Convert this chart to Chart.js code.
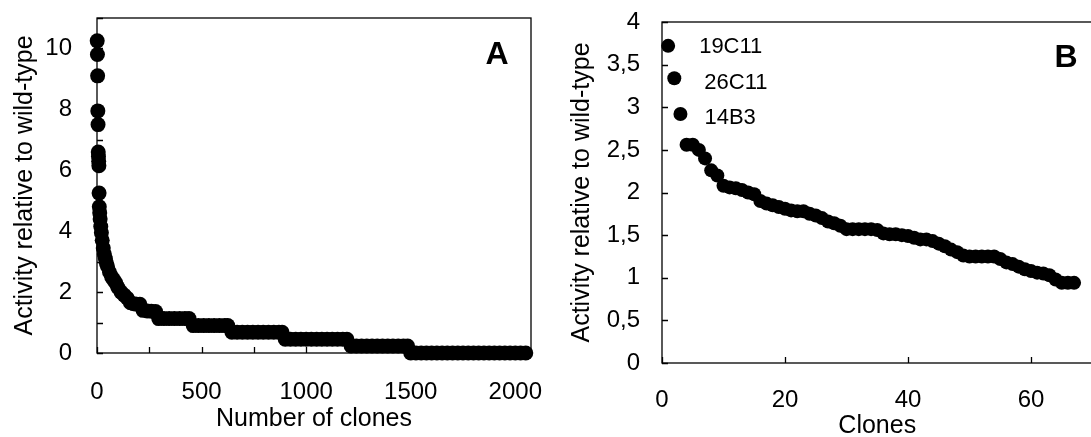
<!DOCTYPE html>
<html lang="en">
<head>
<meta charset="UTF-8">
<title>Activity relative to wild-type</title>
<script src="https://cdn.jsdelivr.net/npm/chart.js"></script>
<style>
    body {
        margin: 0;
        background: #fff;
        width: 1091px;
        height: 437px;
        overflow: hidden;
        position: relative;
    }
    .panel { position: absolute; top: 0; }
    #panelA { left: 0; }
    #panelB { left: 545px; }
</style>
</head>
<body>
<div class="panel" id="panelA"><canvas id="chartA" width="545" height="437"></canvas></div>
<div class="panel" id="panelB"><canvas id="chartB" width="560" height="437"></canvas></div>
<script>
// Panel A: all clones, sorted by activity
const clonesA = [1, 2, 3, 4, 5, 6, 7, 8, 9, 10, 11, 13, 15, 18, 21, 25, 30, 35, 40, 45, 50,
    60, 70, 80, 90, 100, 115, 130, 145, 160, 175, 190, 205, 220, 240, 260, 280,
    295, 320, 345, 370, 395, 420, 440,
    460, 485, 510, 535, 560, 585, 610, 625,
    645, 670, 695, 720, 745, 770, 795, 820, 845, 870, 885,
    900, 925, 950, 975, 1000, 1025, 1050, 1075, 1100, 1125, 1150, 1175, 1195,
    1215, 1240, 1265, 1290, 1315, 1340, 1365, 1390, 1415, 1440, 1465, 1485,
    1500, 1525, 1550, 1575, 1600, 1625, 1650, 1675, 1700, 1725, 1750, 1775,
    1800, 1825, 1850, 1875, 1900, 1925, 1950, 1975, 2000, 2025, 2050];
const activityA = [10.25, 9.8, 9.1, 7.95, 7.5, 6.6, 6.45, 6.3, 6.15, 5.25, 4.8,
    4.6, 4.4, 4.15, 3.95, 3.7, 3.45, 3.25, 3.1, 2.95, 2.85,
    2.65, 2.5, 2.4, 2.3, 2.15,
    2.0, 1.9, 1.8, 1.65, 1.62, 1.6, 1.6,
    1.4, 1.38, 1.37, 1.36,
    1.13, 1.13, 1.13, 1.13, 1.13, 1.13, 1.13,
    0.9, 0.9, 0.9, 0.9, 0.9, 0.9, 0.9, 0.9,
    0.68, 0.68, 0.68, 0.68, 0.68, 0.68, 0.68, 0.68, 0.68, 0.68, 0.68,
    0.45, 0.45, 0.45, 0.45, 0.45, 0.45, 0.45, 0.45, 0.45, 0.45, 0.45, 0.45, 0.45,
    0.23, 0.23, 0.23, 0.23, 0.23, 0.23, 0.23, 0.23, 0.23, 0.23, 0.23, 0.23,
    0, 0, 0, 0, 0, 0, 0, 0, 0, 0, 0, 0,
    0, 0, 0, 0, 0, 0, 0, 0, 0, 0, 0];

// Panel B: best clones
const clonesB = [1, 2, 3, 4, 5, 6, 7, 8, 9, 10, 11, 12, 13, 14, 15, 16, 17, 18, 19, 20,
    21, 22, 23, 24, 25, 26, 27, 28, 29, 30, 31, 32, 33, 34, 35, 36, 37, 38, 39, 40,
    41, 42, 43, 44, 45, 46, 47, 48, 49, 50, 51, 52, 53, 54, 55, 56, 57, 58, 59, 60,
    61, 62, 63, 64, 65, 66, 67];
const activityB = [3.72, 3.34, 2.92, 2.56, 2.56, 2.50, 2.40, 2.26, 2.20, 2.08,
    2.06, 2.05, 2.03, 2.00, 1.98, 1.90, 1.87, 1.85, 1.83, 1.81,
    1.79, 1.78, 1.78, 1.75, 1.73, 1.70, 1.66, 1.64, 1.61, 1.57,
    1.57, 1.57, 1.57, 1.57, 1.56, 1.52, 1.51, 1.51, 1.50, 1.49,
    1.47, 1.45, 1.45, 1.43, 1.40, 1.37, 1.33, 1.30, 1.26, 1.25,
    1.25, 1.25, 1.25, 1.25, 1.22, 1.18, 1.16, 1.13, 1.10, 1.08,
    1.06, 1.05, 1.03, 0.98, 0.94, 0.94, 0.94];
const namedClones = ['19C11', '26C11', '14B3'];

const FONT = '"Liberation Sans", Arial, sans-serif';
const labelOffsets = [[31, 1], [30, 5], [24, 4]];

// box round the plot, inward tick marks, panel letter and clone names
const decor = {
    id: 'decor',
    afterDraw(chart, args, opts) {
        const ctx = chart.ctx;
        const area = chart.chartArea;
        const xs = chart.scales.x, ys = chart.scales.y;
        ctx.save();
        ctx.strokeStyle = '#000';
        ctx.lineWidth = 1.3;
        ctx.strokeRect(area.left, area.top, area.right - area.left, area.bottom - area.top);
        ctx.beginPath();
        xs.ticks.forEach(t => {
            const px = Math.round(xs.getPixelForValue(t.value)) + 0.5;
            ctx.moveTo(px, area.bottom);
            ctx.lineTo(px, area.bottom - 6);
        });
        ys.ticks.forEach(t => {
            const py = Math.round(ys.getPixelForValue(t.value)) + 0.5;
            ctx.moveTo(area.left, py);
            ctx.lineTo(area.left + 6, py);
        });
        ctx.stroke();

        ctx.fillStyle = '#000';
        ctx.font = 'bold 32px ' + FONT;
        ctx.textAlign = 'center';
        ctx.textBaseline = 'middle';
        ctx.fillText(opts.letter, opts.letterX, opts.letterY);

        if (opts.names) {
            ctx.font = '22px ' + FONT;
            ctx.textAlign = 'left';
            const data = chart.data.datasets[0].data;
            opts.names.forEach((name, i) => {
                const px = xs.getPixelForValue(data[i].x) + labelOffsets[i][0];
                const py = ys.getPixelForValue(data[i].y) + labelOffsets[i][1];
                ctx.fillText(name, px, py);
            });
        }
        ctx.restore();
    }
};

function makeChart(id, xs, ys, cfg) {
    return new Chart(document.getElementById(id), {
        type: 'scatter',
        data: {
            datasets: [{
                data: xs.map((x, i) => ({ x: x, y: ys[i] })),
                backgroundColor: '#000',
                borderWidth: 0,
                pointRadius: cfg.radius,
                clip: false
            }]
        },
        options: {
            responsive: false,
            animation: false,
            layout: { padding: cfg.padding },
            plugins: {
                legend: { display: false },
                tooltip: { enabled: false },
                decor: cfg.decor
            },
            scales: {
                x: {
                    type: 'linear',
                    min: 0,
                    max: cfg.xMax,
                    // fixed axis band; label overflow is allowed into the padding
                    afterFit: s => {
                        s.height = cfg.xHeight;
                        s.paddingLeft = 0;
                        s.paddingRight = 0;
                    },
                    grid: { display: false, drawTicks: false },
                    border: { display: false },
                    ticks: {
                        stepSize: cfg.xStep,
                        includeBounds: false,
                        autoSkip: false,
                        maxRotation: 0,
                        minRotation: 0,
                        padding: cfg.xPad,
                        color: '#000',
                        font: { family: FONT, size: 24 },
                        callback: cfg.xLabel
                    },
                    title: {
                        display: true,
                        text: cfg.xTitle,
                        color: '#000',
                        font: { family: FONT, size: 25 },
                        padding: { top: 0, bottom: cfg.xTitlePad }
                    }
                },
                y: {
                    min: 0,
                    max: cfg.yMax,
                    afterFit: s => {
                        s.width = cfg.yWidth;
                        s.paddingTop = 0;
                        s.paddingBottom = 0;
                    },
                    grid: { display: false, drawTicks: false },
                    border: { display: false },
                    ticks: {
                        stepSize: cfg.yStep,
                        includeBounds: false,
                        autoSkip: false,
                        padding: cfg.yPad,
                        color: '#000',
                        font: { family: FONT, size: 24 },
                        callback: cfg.yLabel
                    },
                    title: {
                        display: true,
                        text: 'Activity relative to wild-type',
                        color: '#000',
                        font: { family: FONT, size: 25 },
                        padding: { top: cfg.yTitlePad, bottom: 0 }
                    }
                }
            }
        },
        plugins: [decor]
    });
}

makeChart('chartA', clonesA, activityA, {
    radius: 7.5,
    padding: { top: 18, right: 14, left: 0, bottom: 0 },
    xMax: 2075, xStep: 250, xHeight: 84, xPad: 25, xTitlePad: 3,
    xLabel: v => (v % 500 === 0 ? v : ''),
    xTitle: 'Number of clones',
    yMax: 11, yStep: 1, yWidth: 97, yPad: 25, yTitlePad: 10,
    yLabel: v => (v % 2 === 0 ? v : ''),
    decor: { letter: 'A', letterX: 497, letterY: 55 }
});

makeChart('chartB', clonesB, activityB, {
    radius: 7,
    padding: { top: 22, right: 12.5, left: 0, bottom: 0 },
    xMax: 70, xStep: 20, xHeight: 74, xPad: 23, xTitlePad: -4,
    xLabel: v => v,
    xTitle: 'Clones',
    yMax: 4, yStep: 0.5, yWidth: 117, yPad: 22, yTitlePad: 22,
    yLabel: v => String(v).replace('.', ','),
    decor: { letter: 'B', letterX: 521, letterY: 58, names: namedClones }
});
</script>
</body>
</html>
